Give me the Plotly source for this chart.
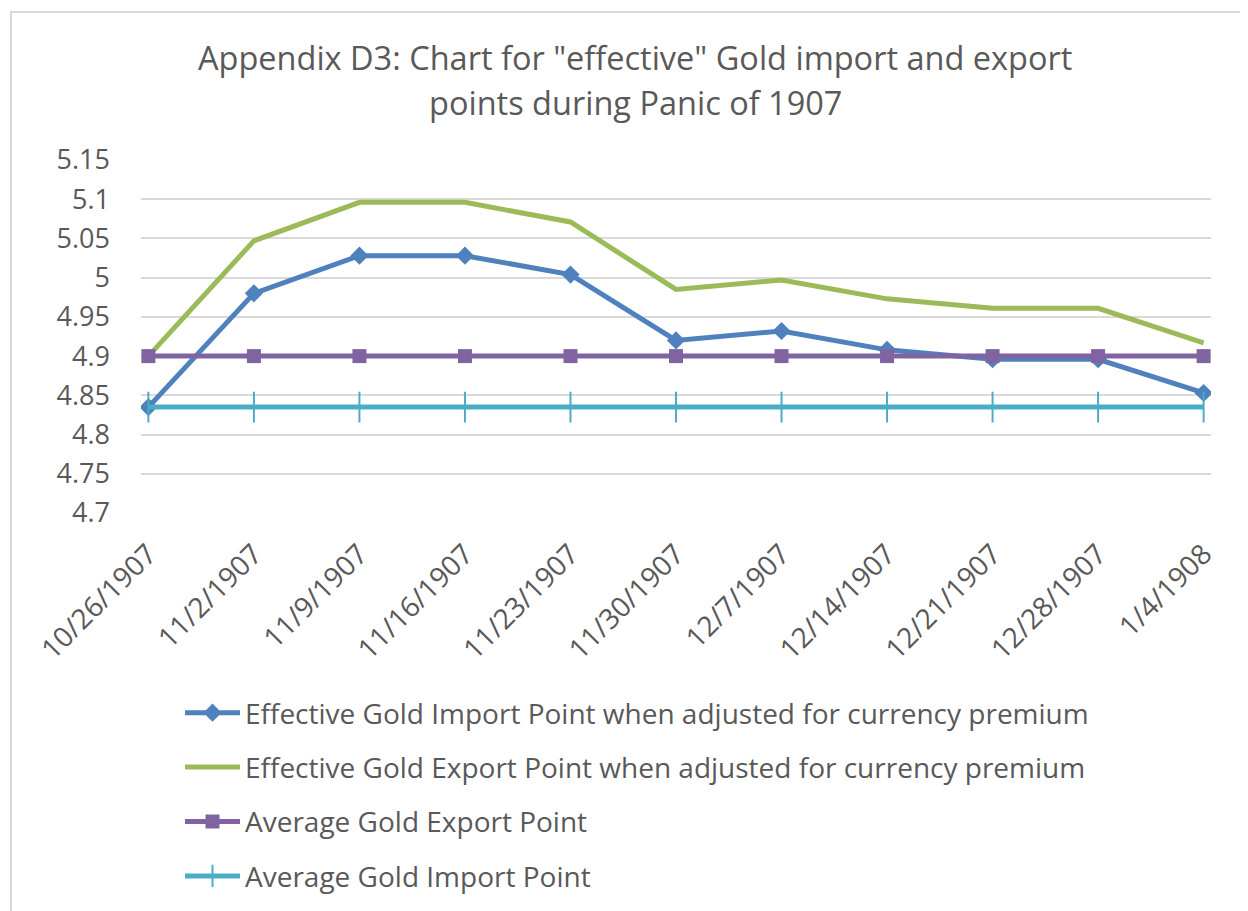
import plotly.graph_objects as go

dates = ["10/26/1907", "11/2/1907", "11/9/1907", "11/16/1907", "11/23/1907",
         "11/30/1907", "12/7/1907", "12/14/1907", "12/21/1907", "12/28/1907", "1/4/1908"]
eff_import = [4.835, 4.980, 5.028, 5.028, 5.004, 4.920, 4.932, 4.908, 4.896, 4.896, 4.853]
eff_export = [4.900, 5.047, 5.096, 5.096, 5.071, 4.985, 4.997, 4.973, 4.961, 4.961, 4.917]
avg_export = [4.900] * 11
avg_import = [4.835] * 11

names = ["Effective Gold Import Point when adjusted for currency premium",
         "Effective Gold Export Point when adjusted for currency premium",
         "Average Gold Export Point",
         "Average Gold Import Point"]
colors = ["#4F81BD", "#9BBB59", "#8064A2", "#4BACC6"]
title_lines = ["Appendix D3: Chart for \"effective\" Gold import and export",
               "points during Panic of 1907"]

TXT = "#595959"
FONT = "Open Sans"

W, H = 1240, 903
L, R, T, B = 133, 37, 152, 398
PW, PH = W - L - R, H - T - B


def py(fig_y):
    return (T + PH - fig_y) / PH


def px(fig_x):
    return (fig_x - L) / PW


fig = go.Figure()
fig.add_trace(go.Scatter(x=dates, y=eff_import, name=names[0], mode="lines+markers",
                         line=dict(color=colors[0], width=5),
                         marker=dict(symbol="diamond", size=14, color=colors[0]),
                         legendgroup="a"))
fig.add_trace(go.Scatter(x=dates, y=eff_export, name=names[1], mode="lines",
                         line=dict(color=colors[1], width=5), legendgroup="b"))
fig.add_trace(go.Scatter(x=dates, y=avg_export, name=names[2], mode="lines+markers",
                         line=dict(color=colors[2], width=5),
                         marker=dict(symbol="square", size=14, color=colors[2]),
                         legendgroup="c"))
fig.add_trace(go.Scatter(x=dates, y=avg_import, name=names[3], mode="lines+markers",
                         line=dict(color=colors[3], width=5),
                         marker=dict(symbol="line-ns", size=22, color=colors[3],
                                     line=dict(color=colors[3], width=2)),
                         legendgroup="d"))

annotations = [
    dict(text=title_lines[0], xref="paper", yref="paper", x=px(627), y=py(49),
         xanchor="center", yanchor="middle", showarrow=False,
         font=dict(family=FONT, size=32.5, color=TXT)),
    dict(text=title_lines[1], xref="paper", yref="paper", x=px(627), y=py(95),
         xanchor="center", yanchor="middle", showarrow=False,
         font=dict(family=FONT, size=32.5, color=TXT)),
]

fig.update_layout(
    width=W, height=H,
    paper_bgcolor="white", plot_bgcolor="white",
    margin=dict(l=L, r=R, t=T, b=B, autoexpand=False),
    font=dict(family=FONT, color=TXT, size=27),
    annotations=annotations,
    showlegend=True,
    legend=dict(orientation="v", xref="container", x=172 / W, xanchor="left",
                yref="container", y=1 - 680 / H, yanchor="top",
                font=dict(family=FONT, size=28, color=TXT),
                tracegroupgap=15, itemwidth=55, traceorder="grouped",
                bgcolor="rgba(0,0,0,0)"),
    xaxis=dict(type="category", range=[-0.07, 10.07], showgrid=False,
               tickangle=-45, tickfont=dict(size=28, color=TXT),
               ticklabelstandoff=18,
               showline=False, zeroline=False, ticks=""),
    yaxis=dict(range=[4.7, 5.15], dtick=0.05, tick0=4.7, showgrid=True,
               gridcolor="#D9D9D9", gridwidth=2, zeroline=False,
               tickfont=dict(size=27, color=TXT), ticklabelstandoff=30,
               showline=False),
    shapes=[dict(type="rect", xref="paper", yref="paper",
                 x0=px(3), x1=px(W + 20),
                 y0=py(H + 20), y1=py(4),
                 line=dict(color="#D9D9D9", width=2), fillcolor="rgba(0,0,0,0)",
                 layer="below")],
)

fig.write_html("out.html")
